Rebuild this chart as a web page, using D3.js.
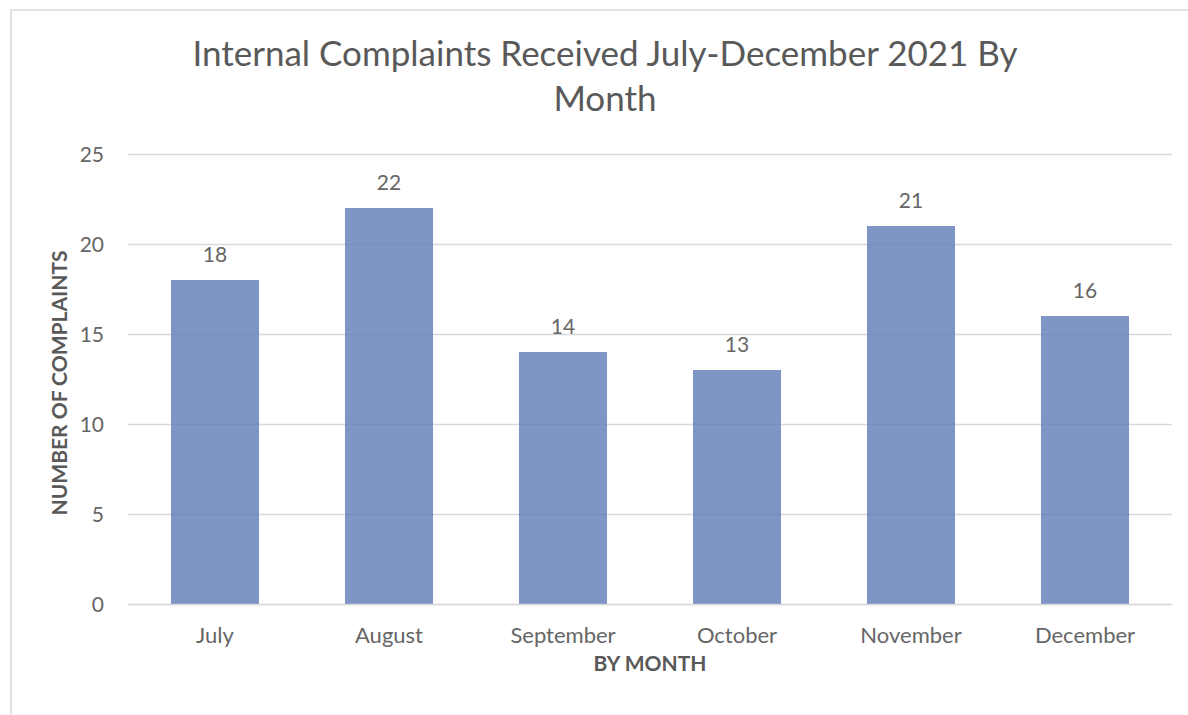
<!DOCTYPE html>
<html>
<head>
<meta charset="utf-8">
<script src="https://cdn.jsdelivr.net/npm/d3@7"></script>
<style>
  body { margin: 0; background: #fff; }
  svg { display: block; font-family: Lato, "Open Sans", sans-serif; }
  svg text { font-family: Lato, "Open Sans", sans-serif; }
  .tick text { fill: #666; }
</style>
</head>
<body>
<svg></svg>
<script>
const months = ['July', 'August', 'September', 'October', 'November', 'December'];
const complaints = [18, 22, 14, 13, 21, 16];
const yTicks = [0, 5, 10, 15, 20, 25];
const titleLines = ['Internal Complaints Received July-December 2021 By', 'Month'];

const width = 1188;
const height = 715;
const margin = {top: 154, right: 16, bottom: 111, left: 128};

const svg = d3.select('svg')
    .attr('width', width)
    .attr('height', height);

// chart frame
svg.append('rect')
    .attr('x', 11)
    .attr('y', 10)
    .attr('width', width + 20)
    .attr('height', height + 20)
    .attr('fill', '#fff')
    .attr('stroke', '#d9d9d9')
    .attr('stroke-width', 1.5);

const x = d3.scaleBand()
    .domain(months)
    .range([margin.left, width - margin.right])
    .paddingInner(0.494)
    .paddingOuter(0.247);

const y = d3.scaleLinear()
    .domain([0, 25])
    .range([height - margin.bottom, margin.top]);

// title
svg.append('g')
    .selectAll('text')
    .data(titleLines)
    .enter()
    .append('text')
        .attr('x', 605)
        .attr('y', (d, i) => 66 + i * 45)
        .attr('text-anchor', 'middle')
        .attr('fill', '#595959')
        .style('font-size', '35px')
        .text(d => d);

// gridlines
svg.append('g')
    .attr('transform', `translate(${margin.left},0)`)
    .call(d3.axisLeft(y).tickValues(yTicks).tickSize(-(width - margin.left - margin.right)).tickFormat(''))
    .call(g => g.select('.domain').remove())
    .call(g => g.selectAll('line').attr('stroke', '#d9d9d9').attr('stroke-width', 1.3));

// y tick labels
svg.append('g')
    .attr('transform', `translate(${margin.left},0)`)
    .call(d3.axisLeft(y).tickValues(yTicks).tickSize(0).tickPadding(24))
    .call(g => g.select('.domain').remove())
    .call(g => g.selectAll('text').style('font-size', '21px').attr('dy', '0.35em'));

// bars
svg.append('g')
    .selectAll('rect')
    .data(complaints)
    .enter()
    .append('rect')
        .attr('x', (d, i) => x(months[i]))
        .attr('y', d => y(d))
        .attr('width', x.bandwidth())
        .attr('height', d => y(0) - y(d))
        .attr('fill', '#5f7bb8')
        .attr('fill-opacity', 0.8);

// value labels
svg.append('g')
    .selectAll('text')
    .data(complaints)
    .enter()
    .append('text')
        .attr('x', (d, i) => x(months[i]) + x.bandwidth() / 2)
        .attr('y', d => y(d) - 18)
        .attr('text-anchor', 'middle')
        .attr('fill', '#666')
        .style('font-size', '21px')
        .text(d => d);

// x axis
svg.append('g')
    .attr('transform', `translate(0,${y(0)})`)
    .call(d3.axisBottom(x).tickSize(0).tickPadding(23))
    .call(g => g.select('.domain').attr('stroke', '#d9d9d9').attr('stroke-width', 1.5))
    .call(g => g.selectAll('text').style('font-size', '22px'));

// axis titles
svg.append('text')
    .attr('x', (margin.left + width - margin.right) / 2)
    .attr('y', 671)
    .attr('text-anchor', 'middle')
    .attr('fill', '#595959')
    .style('font-size', '21px')
    .style('font-weight', 'bold')
    .text('BY MONTH');

svg.append('text')
    .attr('transform', `translate(67,${(y(0) + y(25)) / 2 + 4}) rotate(-90)`)
    .attr('text-anchor', 'middle')
    .attr('fill', '#595959')
    .style('font-size', '21px')
    .style('font-weight', 'bold')
    .text('NUMBER OF COMPLAINTS');
</script>
</body>
</html>
